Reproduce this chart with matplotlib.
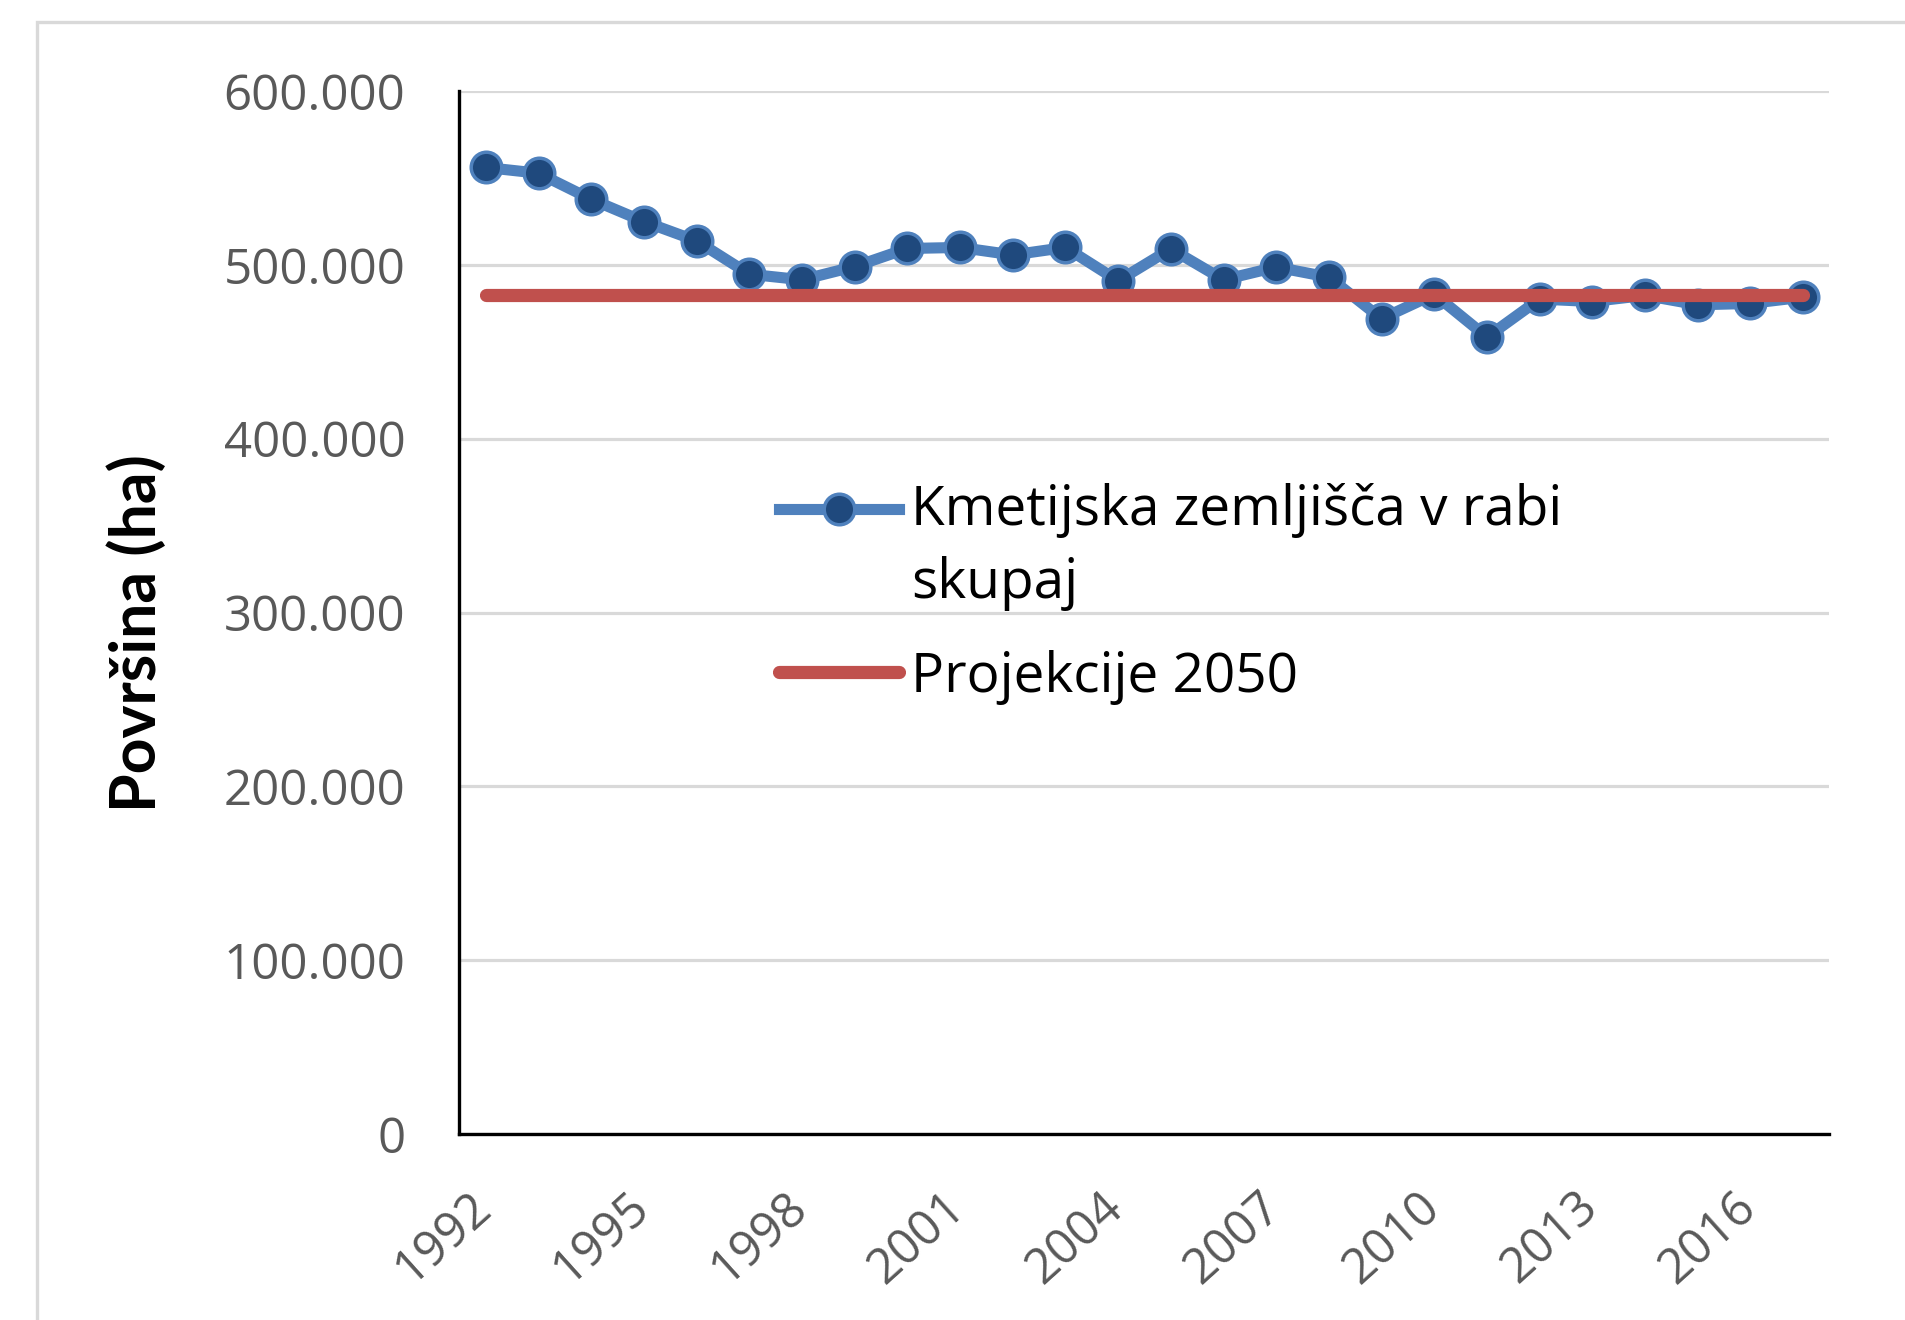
import numpy as np
import matplotlib.pyplot as plt
from matplotlib.patches import Rectangle
from matplotlib.legend_handler import HandlerLine2D
from matplotlib.ticker import FuncFormatter, MultipleLocator
from matplotlib.transforms import ScaledTranslation

# data
years = list(range(1992, 2018))
area = [556000, 552700, 537700, 524900, 513800, 494600, 491400, 499000,
        509400, 510000, 505700, 510000, 490800, 509200, 491400, 498700,
        492900, 469000, 483100, 458400, 480300, 478900, 482400, 477000,
        477800, 481400]
projection = [482800] * len(years)
tick_years = [1992, 1995, 1998, 2001, 2004, 2007, 2010, 2013, 2016]

series_label = 'Kmetijska zemljišča v rabi\nskupaj'
proj_label = 'Projekcije 2050'

W, H = 1906, 1320
fig = plt.figure(figsize=(W / 100, H / 100), dpi=100)
ax = fig.add_axes([459.5 / W, 1 - 1134 / H, 1370 / W, 1043 / H])

# outer chart frame (light gray)
fig.patches.append(Rectangle((37 / W, -0.05), 1.1, 1 - 22 / H + 0.05,
                             transform=fig.transFigure, fill=False,
                             edgecolor='#d9d9d9', linewidth=2.4, zorder=0))

x = np.arange(len(years))
ax.plot(x, area, color='#4f81bd', lw=8, marker='o', markersize=22,
        markerfacecolor='#1f497d', markeredgecolor='#4f81bd', markeredgewidth=2.5,
        label=series_label, zorder=3)
ax.plot(x, projection, color='#c0504d', lw=9.5, solid_capstyle='round',
        label=proj_label, zorder=4)

ax.set_xlim(-0.5, len(years) - 0.5)
ax.set_ylim(0, 600000)
ax.yaxis.set_major_locator(MultipleLocator(100000))
ax.yaxis.set_major_formatter(FuncFormatter(lambda v, p: f"{int(v):,}".replace(',', '.')))
ax.grid(axis='y', color='#d9d9d9', lw=2.3)
ax.set_axisbelow(True)

ax.set_xticks([years.index(y) for y in tick_years])
ax.set_xticklabels([str(y) for y in tick_years])

for s in ['top', 'right']:
    ax.spines[s].set_visible(False)
for s in ['left', 'bottom']:
    ax.spines[s].set_linewidth(2.4)
    ax.spines[s].set_color('black')

ax.tick_params(axis='y', length=0, pad=39, labelsize=35.5, labelcolor='#595959')
ax.tick_params(axis='x', length=0, pad=48, labelsize=35, labelcolor='#595959')
for lab in ax.get_yticklabels():
    lab.set_fontfamily(['Open Sans', 'DejaVu Sans'])
offset = ScaledTranslation(-1 / 100, 0, fig.dpi_scale_trans)
for lab in ax.get_xticklabels():
    lab.set_fontfamily(['Open Sans', 'DejaVu Sans'])
    lab.set_rotation(42)
    lab.set_ha('right')
    lab.set_va('center')
    lab.set_rotation_mode('anchor')
    lab.set_transform(lab.get_transform() + offset)

fig.text(137 / W, 1 - 633 / H, 'Površina (ha)', rotation=90, ha='center', va='center',
         fontsize=45, fontweight='bold', family=['Lato', 'DejaVu Sans'], color='black')


class ShiftedLine(HandlerLine2D):
    # moves the handle up to sit on the first line of a two-line label
    def __init__(self, shift, **kw):
        super().__init__(**kw)
        self.shift = shift

    def create_artists(self, legend, orig_handle, xdescent, ydescent, width, height, fontsize, trans):
        arts = super().create_artists(legend, orig_handle, xdescent, ydescent, width, height, fontsize, trans)
        for a in arts:
            a.set_ydata(np.asarray(a.get_ydata()) + self.shift)
        return arts


handles, labels = ax.get_legend_handles_labels()
leg = ax.legend(handles, labels, loc='upper left', bbox_to_anchor=(0.233, 0.624),
                frameon=False, borderpad=0, borderaxespad=0,
                handlelength=2.2, handletextpad=0.22, labelspacing=0.7,
                prop={'family': ['Open Sans', 'DejaVu Sans'], 'size': 39.5},
                handler_map={handles[0]: ShiftedLine(28.5)})
for txt in leg.get_texts():
    txt.set_linespacing(1.43)
    txt.set_color('black')

fig.savefig('out.png', dpi=100)
